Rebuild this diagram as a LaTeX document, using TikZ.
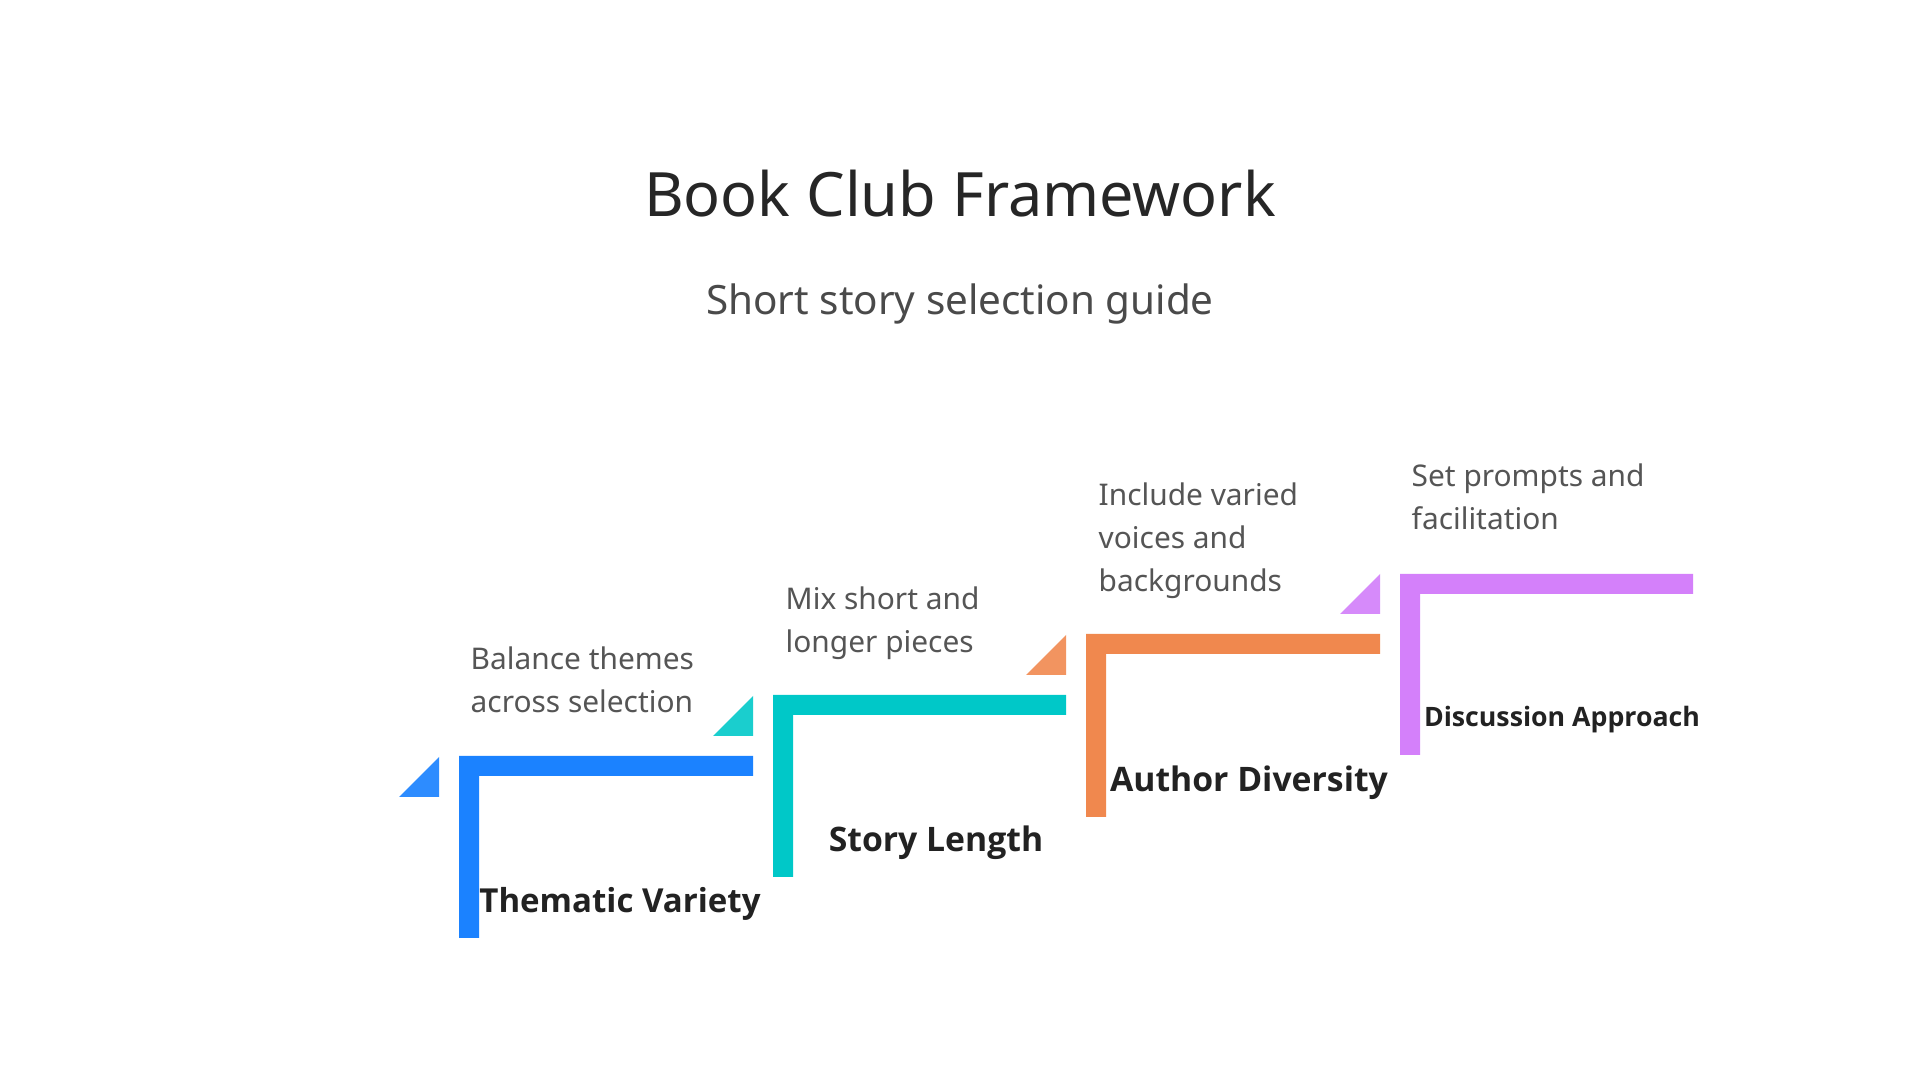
\documentclass[tikz,border=0pt]{standalone}
\usepackage{fontspec}
\setmainfont{Noto Sans}
\newfontfamily\labelfont{Open Sans}[BoldFont={Open Sans Bold}]
\usepackage{tikz}
\usepackage{xcolor}
\usetikzlibrary{positioning}
\definecolor{StepBlue}{HTML}{1B82FF}
\definecolor{StepBlueTri}{HTML}{2D8CFF}
\definecolor{StepTeal}{HTML}{00C8C8}
\definecolor{StepTealTri}{HTML}{1ACECE}
\definecolor{StepOrange}{HTML}{F0884E}
\definecolor{StepOrangeTri}{HTML}{F29460}
\definecolor{StepPurple}{HTML}{D480FA}
\definecolor{StepPurpleTri}{HTML}{D68AFA}
\definecolor{TitleInk}{HTML}{262626}
\definecolor{SubInk}{HTML}{4A4A4A}
\definecolor{DescInk}{HTML}{555555}
\definecolor{LabelInk}{HTML}{222222}

\begin{document}
\begin{tikzpicture}[
    desc/.style={anchor=south west, inner sep=0pt, align=left, text depth=0pt,
        DescInk, font=\fontsize{8.5}{12.2}\selectfont},
    steplabel/.style={anchor=base, inner sep=0pt, LabelInk,
        font=\labelfont\fontsize{9.6}{12}\selectfont\bfseries}
]
    % Canvas
    \fill[white] (0,0) rectangle (19.2,10.8);
    \useasboundingbox (0,0) rectangle (19.2,10.8);

    % Title
    \node[TitleInk, font=\fontsize{17.4}{21}\selectfont, anchor=base] (title) at (9.6,8.63) {Book Club Framework};
    \node[SubInk, font=\fontsize{11.5}{14}\selectfont, anchor=base] (subtitle) at (9.6,7.65) {Short story selection guide};

    % Step 1 - Thematic Variety
    \fill[StepBlueTri] (3.99,2.83) -- (4.39,2.83) -- (4.39,3.23) -- cycle;
    \fill[StepBlue] (4.59,3.24) -- (7.53,3.24) -- (7.53,3.04) -- (4.79,3.04) -- (4.79,1.42) -- (4.59,1.42) -- cycle;
    \node[desc] (desc1) at (4.70,3.67) {Balance themes\\across selection};
    \node[steplabel, font=\labelfont\fontsize{9.4}{12}\selectfont\bfseries] (step1) at (6.20,1.67) {Thematic Variety};

    % Step 2 - Story Length
    \fill[StepTealTri] (7.13,3.44) -- (7.53,3.44) -- (7.53,3.84) -- cycle;
    \fill[StepTeal] (7.73,3.85) -- (10.66,3.85) -- (10.66,3.65) -- (7.93,3.65) -- (7.93,2.03) -- (7.73,2.03) -- cycle;
    \node[desc] (desc2) at (7.85,4.27) {Mix short and\\longer pieces};
    \node[steplabel] (step2) at (9.36,2.28) {Story Length};

    % Step 3 - Author Diversity
    \fill[StepOrangeTri] (10.26,4.05) -- (10.66,4.05) -- (10.66,4.45) -- cycle;
    \fill[StepOrange] (10.86,4.46) -- (13.80,4.46) -- (13.80,4.26) -- (11.06,4.26) -- (11.06,2.63) -- (10.86,2.63) -- cycle;
    \node[desc] (desc3) at (10.98,4.88) {Include varied\\voices and\\backgrounds};
    \node[steplabel] (step3) at (12.49,2.88) {Author Diversity};

    % Step 4 - Discussion Approach
    \fill[StepPurpleTri] (13.40,4.66) -- (13.80,4.66) -- (13.80,5.06) -- cycle;
    \fill[StepPurple] (14.00,5.06) -- (16.93,5.06) -- (16.93,4.86) -- (14.20,4.86) -- (14.20,3.25) -- (14.00,3.25) -- cycle;
    \node[desc] (desc4) at (14.11,5.50) {Set prompts and\\facilitation};
    \node[steplabel, font=\labelfont\fontsize{7.6}{10}\selectfont\bfseries] (step4) at (15.62,3.53) {Discussion Approach};

\end{tikzpicture}
\end{document}
